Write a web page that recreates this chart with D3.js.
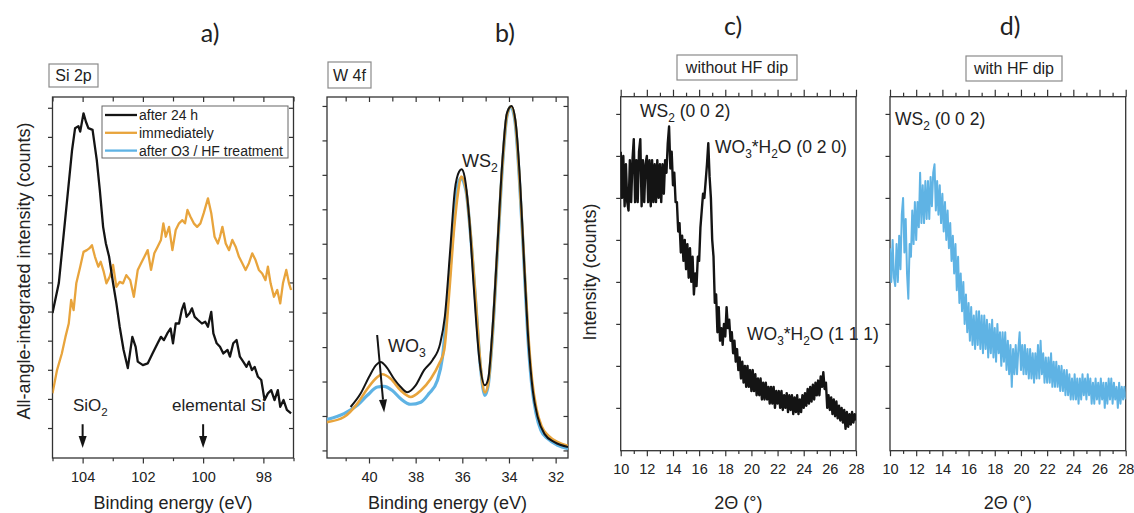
<!DOCTYPE html>
<html>
<head>
<meta charset="utf-8">
<script src="https://cdn.jsdelivr.net/npm/d3@7"></script>
<style>
  body { margin: 0; background: #fff; }
  svg { display: block; font-family: "Liberation Sans", Arial, sans-serif; }
  .axis .tick line { stroke: #333; stroke-width: 1.2; }
  .axis .tick text { font-family: "Liberation Sans", Arial, sans-serif; font-size: 14.5px; fill: #222; }
  .axis .domain { display: none; }
</style>
</head>
<body>
<svg id="fig" width="1134" height="513"></svg>
<script>
// ---- panel a: Si 2p, [binding energy (eV), intensity] ----
const si2pAfter24h = [
  [105.0,4.95],[104.79,5.98],[104.57,8.26],[104.35,10.55],[104.25,11.3],[104.14,11.37],[104.08,11.18],
  [103.97,11.81],[103.89,11.52],[103.81,11.3],[103.67,11.24],[103.53,10.2],[103.43,9.18],[103.32,7.91],
  [103.23,7.35],[103.12,6.88],[102.99,5.98],[102.88,5.29],[102.77,4.48],[102.64,3.68],[102.5,3.06],
  [102.35,4.13],[102.24,3.79],[102.17,3.28],[102.0,3.16],[101.84,3.22],[101.68,3.56],[101.51,3.91],
  [101.4,4.13],[101.3,4.02],[101.19,4.25],[101.08,4.42],[101.0,3.91],[100.91,4.59],[100.8,4.59],
  [100.71,5.05],[100.63,5.28],[100.55,4.82],[100.45,4.94],[100.37,5.11],[100.28,4.82],[100.17,4.71],
  [100.04,4.59],[99.93,4.65],[99.84,4.48],[99.73,4.99],[99.66,4.25],[99.55,3.91],[99.44,3.79],
  [99.33,3.56],[99.19,3.68],[99.11,3.45],[99.0,3.91],[98.89,4.02],[98.78,3.45],[98.67,3.28],
  [98.56,3.1],[98.48,3.28],[98.38,2.99],[98.29,3.1],[98.18,2.76],[98.07,2.65],[97.96,1.96],
  [97.85,2.19],[97.74,2.3],[97.63,1.96],[97.52,2.3],[97.44,1.73],[97.33,1.96],[97.22,1.62],[97.08,1.5]
];
const si2pImmediately = [
  [105.0,2.19],[104.85,2.99],[104.69,3.56],[104.57,4.13],[104.46,4.59],[104.38,5.4],[104.3,5.05],
  [104.21,5.97],[104.08,6.54],[103.97,7.05],[103.86,7.11],[103.78,7.17],[103.69,7.28],[103.59,6.88],
  [103.48,6.54],[103.4,6.71],[103.3,6.37],[103.21,5.97],[103.1,6.2],[102.99,6.6],[102.88,5.85],
  [102.77,6.02],[102.66,5.97],[102.55,6.25],[102.42,6.08],[102.3,5.51],[102.17,6.43],[102.06,6.66],
  [101.95,6.88],[101.84,7.11],[101.73,6.43],[101.62,7.0],[101.51,7.23],[101.4,7.46],[101.32,8.03],
  [101.24,7.57],[101.13,7.91],[101.02,7.11],[100.91,7.8],[100.8,8.03],[100.69,8.14],[100.6,8.03],
  [100.52,8.49],[100.42,8.26],[100.31,8.03],[100.2,7.91],[100.09,8.03],[99.98,8.38],[99.84,8.89],
  [99.73,8.38],[99.62,7.57],[99.51,7.34],[99.44,7.57],[99.36,7.91],[99.25,7.34],[99.14,7.11],
  [99.03,7.46],[98.92,7.23],[98.81,6.88],[98.7,6.66],[98.59,6.43],[98.48,6.66],[98.37,7.0],
  [98.26,6.77],[98.15,6.43],[98.04,6.31],[97.93,6.08],[97.85,6.54],[97.76,5.97],[97.65,5.51],
  [97.54,5.74],[97.44,5.28],[97.35,5.97],[97.24,6.43],[97.15,5.97],[97.08,5.74]
];

// ---- panel b: W 4f, [binding energy (eV), intensity] ----
const w4fAfter24h = [
  [40.79,1.26],[40.36,1.65],[40.0,2.13],[39.71,2.47],[39.5,2.57],[39.25,2.42],[38.93,2.08],[38.64,1.84],
  [38.36,1.69],[38.0,1.89],[37.64,2.33],[37.28,2.62],[36.95,3.1],[36.75,3.88],[36.52,5.81],[36.32,7.56],
  [36.14,8.09],[36.03,8.16],[35.9,7.94],[35.71,6.78],[35.5,4.65],[35.28,2.71],[35.03,1.89],[34.89,2.08],
  [34.71,3.49],[34.49,6.0],[34.28,8.43],[34.09,9.79],[33.89,10.0],[33.71,9.5],[33.52,7.75],[33.35,5.43],
  [33.17,3.2],[32.98,1.74],[32.77,0.97],[32.48,0.48],[32.05,0.24],[31.47,0.1]
];
const w4fImmediately = [
  [41.8,0.82],[41.07,0.97],[40.5,1.36],[40.07,1.79],[39.64,2.13],[39.43,2.21],[39.07,2.08],[38.64,1.74],
  [38.21,1.55],[37.78,1.74],[37.35,2.08],[36.99,2.52],[36.78,2.9],[36.57,4.51],[36.35,6.45],[36.18,7.5],
  [36.05,7.95],[35.85,7.6],[35.64,6.25],[35.42,4.3],[35.21,2.4],[35.03,1.68],[34.89,1.95],[34.71,3.35],
  [34.49,5.9],[34.28,8.3],[34.09,9.72],[33.91,9.99],[33.74,9.6],[33.55,7.9],[33.36,5.6],[33.18,3.45],
  [33.01,2.05],[32.82,1.2],[32.6,0.7],[32.3,0.42],[31.9,0.24],[31.47,0.13]
];
const w4fAfterO3HF = [
  [41.8,0.9],[41.07,1.07],[40.5,1.31],[40.07,1.6],[39.64,1.84],[39.36,1.86],[39.0,1.74],[38.64,1.5],
  [38.21,1.34],[37.78,1.4],[37.43,1.65],[37.07,2.03],[36.85,2.71],[36.64,4.26],[36.42,6.2],[36.21,7.65],
  [36.07,7.9],[35.85,7.56],[35.64,6.2],[35.42,4.26],[35.21,2.33],[35.03,1.6],[34.89,1.89],[34.71,3.29],
  [34.49,5.81],[34.28,8.24],[34.09,9.69],[33.92,9.98],[33.75,9.59],[33.56,7.94],[33.37,5.62],[33.2,3.39],
  [33.03,1.94],[32.84,1.07],[32.63,0.58],[32.34,0.34],[31.91,0.15],[31.47,0.05]
];

// ---- panel c: XRD without HF dip, [2theta (deg), intensity] ----
const xrdWithoutHF = [
  [10.0,7.1],[10.1,6.0],[10.2,7.0],[10.3,5.8],[10.4,6.8],[10.5,5.9],[10.6,5.7],[10.7,6.9],[10.8,5.9],[10.9,6.9],
  [11.0,7.4],[11.1,5.9],[11.2,6.9],[11.3,5.9],[11.4,7.1],[11.5,7.4],[11.6,5.8],[11.7,6.9],[11.8,5.9],[11.9,6.8],
  [12.0,7.0],[12.1,5.9],[12.2,6.9],[12.3,5.8],[12.4,6.9],[12.5,5.9],[12.6,6.8],[12.7,5.9],[12.8,6.9],[12.9,6.0],
  [13.0,6.8],[13.1,5.9],[13.2,6.8],[13.3,6.1],[13.4,6.9],[13.5,6.6],[13.6,7.3],[13.7,7.7],[13.8,6.7],[13.9,7.1],
  [14.0,6.3],[14.1,6.6],[14.2,5.9],[14.3,5.9],[14.4,5.2],[14.5,5.4],[14.6,4.7],[14.7,5.1],[14.8,4.5],[14.9,5.0],
  [15.0,4.3],[15.1,4.9],[15.2,4.1],[15.3,4.8],[15.4,4.0],[15.5,4.6],[15.6,3.7],[15.7,4.2],[15.8,3.9],[15.9,4.6],
  [16.0,4.5],[16.1,5.3],[16.2,5.7],[16.3,6.1],[16.4,6.0],[16.5,6.4],[16.6,6.8],[16.7,7.3],[16.8,6.5],[16.9,6.0],
  [17.0,5.0],[17.1,4.6],[17.2,3.5],[17.3,3.7],[17.4,2.8],[17.5,3.4],[17.6,2.6],[17.7,2.9],[17.8,2.5],[17.9,3.0],
  [18.0,2.7],[18.1,3.4],[18.2,2.9],[18.3,3.1],[18.4,2.6],[18.5,2.8],[18.6,2.3],[18.7,2.6],[18.8,2.1],[18.9,2.4],
  [19.0,1.9],[19.1,2.2],[19.2,1.7],[19.3,2.1],[19.4,1.6],[19.5,2.0],[19.6,1.5],[19.7,2.0],[19.8,1.5],[19.9,1.9],
  [20.0,1.4],[20.1,1.9],[20.2,1.4],[20.3,1.8],[20.4,1.3],[20.5,1.7],[20.6,1.3],[20.7,1.7],[20.8,1.2],[20.9,1.6],
  [21.0,1.2],[21.1,1.6],[21.2,1.2],[21.3,1.5],[21.4,1.1],[21.5,1.5],[21.6,1.1],[21.7,1.5],[21.8,1.0],[21.9,1.4],
  [22.0,1.1],[22.1,1.4],[22.2,1.0],[22.3,1.4],[22.4,0.95],[22.5,1.3],[22.6,1.0],[22.7,1.35],[22.8,0.9],[22.9,1.3],
  [23.0,0.95],[23.1,1.3],[23.2,0.85],[23.3,1.25],[23.4,0.9],[23.5,1.3],[23.6,0.85],[23.7,1.2],[23.8,0.9],[23.9,1.3],
  [24.0,1.0],[24.1,1.35],[24.2,1.05],[24.3,1.45],[24.4,1.1],[24.5,1.5],[24.6,1.15],[24.7,1.55],[24.8,1.2],[24.9,1.6],
  [25.0,1.3],[25.1,1.65],[25.2,1.3],[25.3,1.75],[25.4,1.5],[25.5,1.85],[25.6,1.45],[25.7,1.6],[25.8,1.0],[25.9,1.3],
  [26.0,0.95],[26.1,1.25],[26.2,0.85],[26.3,1.2],[26.4,0.8],[26.5,1.15],[26.6,0.75],[26.7,1.05],[26.8,0.7],[26.9,1.0],
  [27.0,0.65],[27.1,0.95],[27.2,0.5],[27.3,0.9],[27.4,0.55],[27.5,0.85],[27.6,0.6],[27.7,0.9],[27.8,0.65],[27.9,0.85],
  [28.0,0.7]
];

// ---- panel d: XRD with HF dip, [2theta (deg), intensity] ----
const xrdWithHF = [
  [10.0,4.8],[10.1,4.0],[10.2,5.0],[10.3,4.1],[10.4,3.9],[10.5,4.9],[10.6,4.0],[10.7,5.1],[10.8,4.3],[10.9,5.6],
  [11.0,6.0],[11.1,4.7],[11.2,5.5],[11.3,4.2],[11.4,3.6],[11.5,4.9],[11.6,4.6],[11.7,5.7],[11.8,4.9],[11.9,5.9],
  [12.0,5.0],[12.1,5.9],[12.2,5.3],[12.3,6.6],[12.4,5.4],[12.5,6.3],[12.6,5.4],[12.7,6.4],[12.8,5.5],[12.9,6.4],
  [13.0,5.5],[13.1,6.5],[13.2,5.8],[13.3,6.6],[13.4,6.8],[13.5,5.7],[13.6,6.4],[13.7,5.6],[13.8,6.3],[13.9,5.4],
  [14.0,6.1],[14.1,5.2],[14.2,5.9],[14.3,5.0],[14.4,5.7],[14.5,4.8],[14.6,5.4],[14.7,4.5],[14.8,5.1],[14.9,4.2],
  [15.0,4.9],[15.1,3.8],[15.2,4.6],[15.3,3.5],[15.4,4.2],[15.5,3.3],[15.6,4.0],[15.7,3.0],[15.8,3.7],[15.9,2.8],
  [16.0,3.5],[16.1,2.6],[16.2,3.4],[16.3,2.5],[16.4,3.2],[16.5,2.4],[16.6,3.3],[16.7,2.5],[16.8,3.3],[16.9,2.4],
  [17.0,3.2],[17.1,2.3],[17.2,3.2],[17.3,2.4],[17.4,3.1],[17.5,2.2],[17.6,3.0],[17.7,2.3],[17.8,3.1],[17.9,2.2],
  [18.0,2.9],[18.1,2.1],[18.2,3.0],[18.3,2.3],[18.4,2.8],[18.5,2.0],[18.6,2.8],[18.7,2.1],[18.8,2.8],[18.9,1.9],
  [19.0,2.6],[19.1,1.8],[19.2,2.5],[19.3,1.5],[19.4,2.4],[19.5,1.8],[19.6,2.5],[19.7,1.8],[19.8,2.4],[19.9,2.8],
  [20.0,1.9],[20.1,2.5],[20.2,1.8],[20.3,2.5],[20.4,1.8],[20.5,2.4],[20.6,1.7],[20.7,2.4],[20.8,1.7],[20.9,2.3],
  [21.0,1.6],[21.1,2.3],[21.2,1.7],[21.3,2.5],[21.4,1.7],[21.5,2.6],[21.6,1.8],[21.7,2.3],[21.8,1.6],[21.9,2.2],
  [22.0,1.6],[22.1,2.2],[22.2,1.6],[22.3,2.3],[22.4,1.5],[22.5,2.1],[22.6,1.5],[22.7,2.1],[22.8,1.5],[22.9,2.0],
  [23.0,1.4],[23.1,2.0],[23.2,1.4],[23.3,1.9],[23.4,1.3],[23.5,1.9],[23.6,1.3],[23.7,1.8],[23.8,1.2],[23.9,1.7],
  [24.0,1.2],[24.1,1.8],[24.2,1.2],[24.3,1.7],[24.4,1.1],[24.5,1.7],[24.6,1.2],[24.7,1.8],[24.8,1.3],[24.9,1.7],
  [25.0,1.2],[25.1,1.8],[25.2,1.3],[25.3,1.7],[25.4,1.1],[25.5,1.6],[25.6,1.1],[25.7,1.7],[25.8,1.2],[25.9,1.6],
  [26.0,1.1],[26.1,1.7],[26.2,1.2],[26.3,1.6],[26.4,1.0],[26.5,1.6],[26.6,1.1],[26.7,1.7],[26.8,1.2],[26.9,1.7],
  [27.0,1.1],[27.1,1.6],[27.2,1.2],[27.3,1.5],[27.4,1.0],[27.5,1.6],[27.6,1.1],[27.7,1.5],[27.8,1.2],[27.9,1.5],
  [28.0,1.2]
];

// tick values and labels
const beTicksSi = [104, 102, 100, 98];
const beMinorSi = [105, 103, 101, 99, 97];
const beTicksW = [40, 38, 36, 34, 32];
const beMinorW = [41, 39, 37, 35, 33];
const thetaTicks = [10, 12, 14, 16, 18, 20, 22, 24, 26, 28];
const thetaMinor = [11, 13, 15, 17, 19, 21, 23, 25, 27];
const yTicksSi = [1, 2, 3, 4, 5, 6, 7, 8, 9, 10, 11, 12];
const yTicksW = [0, 1, 2, 3, 4, 5, 6, 7, 8, 9, 10];
const yTicksXrd = [1, 2, 3, 4, 5, 6, 7, 8];
const legendLabels = ['after 24 h', 'immediately', 'after O3 / HF treatment'];

const BLACK = '#141414';
const ORANGE = '#e8a43c';
const BLUE = '#5fb3e4';
const legendColors = [BLACK, ORANGE, BLUE];

const svg = d3.select('#fig');

function setupPanel(id, box, xDomain, yDomain) {
    const x = d3.scaleLinear().domain(xDomain).range([box.left, box.right]);
    const y = d3.scaleLinear().domain(yDomain).range([box.bottom, box.top]);
    const g = svg.append('g').attr('id', id);
    g.append('clipPath').attr('id', 'clip-' + id)
      .append('rect')
        .attr('x', box.left).attr('y', box.top)
        .attr('width', box.right - box.left).attr('height', box.bottom - box.top);
    return { id, g, x, y, box };
}

function drawAxes(p, o) {
    const { g, x, y, box } = p;
    const fmt = d3.format('d');

    g.append('g').attr('class', 'axis')
        .attr('transform', `translate(0,${box.bottom})`)
        .call(d3.axisBottom(x).tickValues(o.xMajor).tickSize(5.5).tickPadding(o.pad).tickFormat(fmt));
    g.append('g').attr('class', 'axis')
        .attr('transform', `translate(0,${box.bottom})`)
        .call(d3.axisBottom(x).tickValues(o.xMinor).tickSize(3.2).tickFormat(''));

    // top ticks: outward for XRD, inward for XPS
    const dir = o.topOut ? 1 : -1;
    g.append('g').attr('class', 'axis')
        .attr('transform', `translate(0,${box.top})`)
        .call(d3.axisTop(x).tickValues(o.xMajor).tickSize(dir * (o.topOut ? 7 : 5)).tickFormat(''));
    g.append('g').attr('class', 'axis')
        .attr('transform', `translate(0,${box.top})`)
        .call(d3.axisTop(x).tickValues(o.xMinor).tickSize(dir * (o.topOut ? 4 : 4.5)).tickFormat(''));

    g.append('g').attr('class', 'axis')
        .attr('transform', `translate(${box.left},0)`)
        .call(d3.axisLeft(y).tickValues(o.yTicks).tickSize(4.5).tickFormat(''));

    if (o.rightTicks) {
        g.append('g').attr('class', 'axis')
            .attr('transform', `translate(${box.right},0)`)
            .call(d3.axisRight(y).tickValues(o.yTicks).tickSize(-4.5).tickFormat(''));
    }

    g.append('rect')
        .attr('x', box.left).attr('y', box.top)
        .attr('width', box.right - box.left).attr('height', box.bottom - box.top)
        .attr('fill', 'none').attr('stroke', '#333').attr('stroke-width', 1.3);

    g.append('text')
        .attr('x', (box.left + box.right) / 2).attr('y', 509)
        .attr('text-anchor', 'middle').attr('font-size', 18).attr('fill', '#222')
        .text(o.xTitle);
}

function drawCurve(p, data, color, width, curve) {
    const line = d3.line()
        .x(d => p.x(d[0]))
        .y(d => p.y(d[1]))
        .curve(curve || d3.curveLinear);
    p.g.append('path')
        .datum(data)
        .attr('clip-path', `url(#clip-${p.id})`)
        .attr('d', line)
        .attr('fill', 'none')
        .attr('stroke', color)
        .attr('stroke-width', width)
        .attr('stroke-linejoin', 'round');
}

// text with subscripts: parts = [[string, isSub], ...]
function richText(g, x, y, parts, size, anchor) {
    const t = g.append('text')
        .attr('x', x).attr('y', y)
        .attr('font-size', size).attr('fill', '#222')
        .attr('text-anchor', anchor || 'start');
    let shifted = false;
    parts.forEach(([s, sub]) => {
        const span = t.append('tspan').text(s);
        if (sub && !shifted) { span.attr('font-size', size * 0.68).attr('dy', size * 0.28); shifted = true; }
        else if (!sub && shifted) { span.attr('dy', -size * 0.28); shifted = false; }
        else if (sub) span.attr('font-size', size * 0.68);
    });
    return t;
}

function boxLabel(g, x, y, w, h, label) {
    g.append('rect')
        .attr('x', x).attr('y', y).attr('width', w).attr('height', h)
        .attr('fill', '#fff').attr('stroke', '#8a8a8a').attr('stroke-width', 1.2);
    g.append('text')
        .attr('x', x + w / 2).attr('y', y + h / 2 + 5.5)
        .attr('text-anchor', 'middle').attr('font-size', 16).attr('fill', '#222')
        .text(label);
}

// arrow in data coordinates, pointing from (x1,y1) to (x2,y2)
function arrow(p, x1, y1, x2, y2, headLen, headW) {
    const ax = p.x(x1), ay = p.y(y1), bx = p.x(x2), by = p.y(y2);
    const len = Math.hypot(bx - ax, by - ay);
    const ux = (bx - ax) / len, uy = (by - ay) / len;
    const cx = bx - ux * headLen, cy = by - uy * headLen;
    p.g.append('line')
        .attr('x1', ax).attr('y1', ay).attr('x2', cx).attr('y2', cy)
        .attr('stroke', BLACK).attr('stroke-width', 2);
    p.g.append('path')
        .attr('d', `M${bx},${by}L${cx - uy * headW / 2},${cy + ux * headW / 2}` +
                   `L${cx + uy * headW / 2},${cy - ux * headW / 2}Z`)
        .attr('fill', BLACK);
}

function panelLetter(x, y, s) {
    svg.append('text')
        .attr('x', x).attr('y', y)
        .attr('text-anchor', 'middle')
        .attr('font-family', 'Lato, "Open Sans", sans-serif')
        .attr('font-size', 25).attr('fill', '#222')
        .text(s);
}

// ---------------- panel a ----------------
const pa = setupPanel('a', { left: 52.5, right: 293.5, top: 97, bottom: 458 }, [105, 97], [-0.03, 12.37]);
drawAxes(pa, { xMajor: beTicksSi, xMinor: beMinorSi, yTicks: yTicksSi, pad: 8, topOut: false, rightTicks: true, xTitle: 'Binding energy (eV)' });
drawCurve(pa, si2pImmediately, ORANGE, 2.3);
drawCurve(pa, si2pAfter24h, BLACK, 2.3);

const legend = pa.g.append('g');
legend.append('rect')
    .attr('x', 102).attr('y', 106).attr('width', 186).attr('height', 52)
    .attr('fill', '#fff').attr('stroke', '#666').attr('stroke-width', 1);
legendLabels.forEach((lab, i) => {
    const ly = 115 + i * 17.8;
    legend.append('line')
        .attr('x1', 105).attr('x2', 137).attr('y1', ly).attr('y2', ly)
        .attr('stroke', legendColors[i]).attr('stroke-width', 2.3);
    legend.append('text')
        .attr('x', 139).attr('y', ly + 5).attr('font-size', 14).attr('fill', '#222')
        .text(lab);
});

richText(pa.g, 73, 411, [['SiO', 0], ['2', 1]], 17);
richText(pa.g, 172, 411, [['elemental Si', 0]], 17);
arrow(pa, 104, 1.13, 104, 0.31, 12, 8);
arrow(pa, 100, 1.13, 100, 0.31, 12, 8);
boxLabel(svg, 49, 64, 49, 23, 'Si 2p');

svg.append('text')
    .attr('transform', 'translate(30,271) rotate(-90)')
    .attr('text-anchor', 'middle').attr('font-size', 18).attr('fill', '#222')
    .text('All-angle-integrated intensity (counts)');

// ---------------- panel b ----------------
const pb = setupPanel('b', { left: 327, right: 568, top: 97, bottom: 458 }, [41.8, 31.47], [-0.22, 10.26]);
drawAxes(pb, { xMajor: beTicksW, xMinor: beMinorW, yTicks: yTicksW, pad: 8, topOut: false, rightTicks: true, xTitle: 'Binding energy (eV)' });
drawCurve(pb, w4fAfterO3HF, BLUE, 3.2, d3.curveMonotoneX);
drawCurve(pb, w4fImmediately, ORANGE, 2.6, d3.curveMonotoneX);
drawCurve(pb, w4fAfter24h, BLACK, 2, d3.curveMonotoneX);
richText(pb.g, 462, 167, [['WS', 0], ['2', 1]], 18);
richText(pb.g, 388, 352, [['WO', 0], ['3', 1]], 18);
arrow(pb, 39.65, 3.35, 39.35, 1.1, 13, 8);
boxLabel(svg, 328, 62, 43, 26, 'W 4f');

// ---------------- panel c ----------------
const pc = setupPanel('c', { left: 620.7, right: 856, top: 96.7, bottom: 450.7 }, [10, 28], [-0.02, 8.41]);
drawAxes(pc, { xMajor: thetaTicks, xMinor: thetaMinor, yTicks: yTicksXrd, pad: 7.5, topOut: true, rightTicks: false, xTitle: '2\u0398 (\u00b0)' });
drawCurve(pc, xrdWithoutHF, BLACK, 2.4);
richText(pc.g, 640, 117, [['WS', 0], ['2', 1], [' (0 0 2)', 0]], 17.5);
richText(pc.g, 715, 153, [['WO', 0], ['3', 1], ['*H', 0], ['2', 1], ['O (0 2 0)', 0]], 17.5);
richText(pc.g, 747, 340, [['WO', 0], ['3', 1], ['*H', 0], ['2', 1], ['O (1 1 1)', 0]], 17.5);
boxLabel(svg, 677, 55, 120, 25, 'without HF dip');

svg.append('text')
    .attr('transform', 'translate(596,272) rotate(-90)')
    .attr('text-anchor', 'middle').attr('font-size', 18).attr('fill', '#222')
    .text('Intensity (counts)');

// ---------------- panel d ----------------
const pd = setupPanel('d', { left: 890, right: 1125.7, top: 96.7, bottom: 450.7 }, [10, 28], [-0.02, 8.41]);
drawAxes(pd, { xMajor: thetaTicks, xMinor: thetaMinor, yTicks: yTicksXrd, pad: 7.5, topOut: true, rightTicks: false, xTitle: '2\u0398 (\u00b0)' });
drawCurve(pd, xrdWithHF, BLUE, 2);
richText(pd.g, 895, 125, [['WS', 0], ['2', 1], [' (0 0 2)', 0]], 17.5);
boxLabel(svg, 966, 56, 96, 25, 'with HF dip');

// panel letters
panelLetter(210, 42, 'a)');
panelLetter(505, 42, 'b)');
panelLetter(733, 35, 'c)');
panelLetter(1010, 35, 'd)');
</script>
</body>
</html>
